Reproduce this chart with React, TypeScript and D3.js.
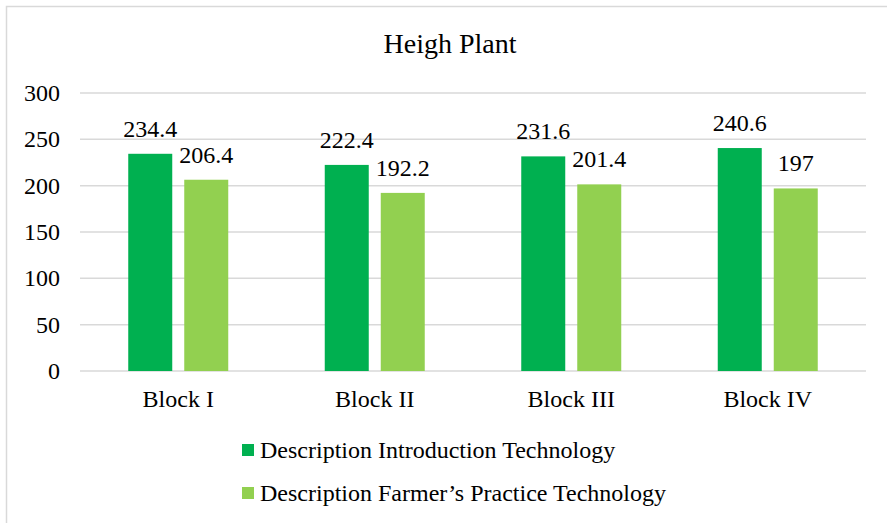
import React from "react";
import * as d3 from "d3";

const categories = ["Block I", "Block II", "Block III", "Block IV"];
const seriesNames = ["Description Introduction Technology", "Description Farmer\u2019s Practice Technology"];
const introValues = [234.4, 222.4, 231.6, 240.6];
const farmerValues = [206.4, 192.2, 201.4, 197];
const yTicks = [0, 50, 100, 150, 200, 250, 300];
const colors = ["#00B050", "#92D050"];
const title = "Heigh Plant";

const W = 887;
const H = 523;
const plotLeft = 80;
const plotRight = 866;
const plotTop = 93;
const plotBottom = 371;
const FONT = "Liberation Serif, Times New Roman, serif";

export default function App() {
  const x = d3.scaleBand<string>().domain(categories).range([plotLeft, plotRight]).paddingInner(0).paddingOuter(0);
  const y = d3.scaleLinear().domain([0, 300]).range([plotBottom, plotTop]);
  const barW = 44;
  const gap = 12;
  const series = [introValues, farmerValues];
  const txt = { fontFamily: FONT, fontSize: "24px", fill: "#000" } as React.CSSProperties;

  return (
    <div style={{ position: "fixed", left: 0, top: 0 }}>
      <svg width={W} height={H} style={{ display: "block", background: "#fff", fontFamily: FONT }}>
        <rect x={6.5} y={6.5} width={W + 10} height={H + 10} fill="#fff" stroke="#D9D9D9" strokeWidth={1.5} />
        <text x={450} y={53} textAnchor="middle" style={{ ...txt, fontSize: "28px" }}>
          {title}
        </text>
        {yTicks.map((t) => (
          <g key={t}>
            <line x1={plotLeft} x2={plotRight} y1={y(t)} y2={y(t)} stroke="#D9D9D9" strokeWidth={1.5} />
            <text x={60} y={y(t) + 8} textAnchor="end" style={txt}>
              {String(t)}
            </text>
          </g>
        ))}
        {categories.map((c, i) => {
          const cx = (x(c) as number) + x.bandwidth() / 2;
          return (
            <g key={c}>
              {series.map((vals, s) => {
                const bx = s === 0 ? cx - gap / 2 - barW : cx + gap / 2;
                const top = y(vals[i]);
                return (
                  <g key={s}>
                    <rect x={bx} y={top} width={barW} height={plotBottom - top} fill={colors[s]} />
                    <text x={bx + barW / 2} y={top - 17} textAnchor="middle" style={txt}>
                      {String(vals[i])}
                    </text>
                  </g>
                );
              })}
              <text x={cx} y={407} textAnchor="middle" style={txt}>
                {c}
              </text>
            </g>
          );
        })}
        {seriesNames.map((n, s) => (
          <g key={n}>
            <rect x={242} y={444 + s * 43} width={12} height={12} fill={colors[s]} />
            <text x={260} y={458 + s * 43} style={txt}>
              {n}
            </text>
          </g>
        ))}
      </svg>
    </div>
  );
}
